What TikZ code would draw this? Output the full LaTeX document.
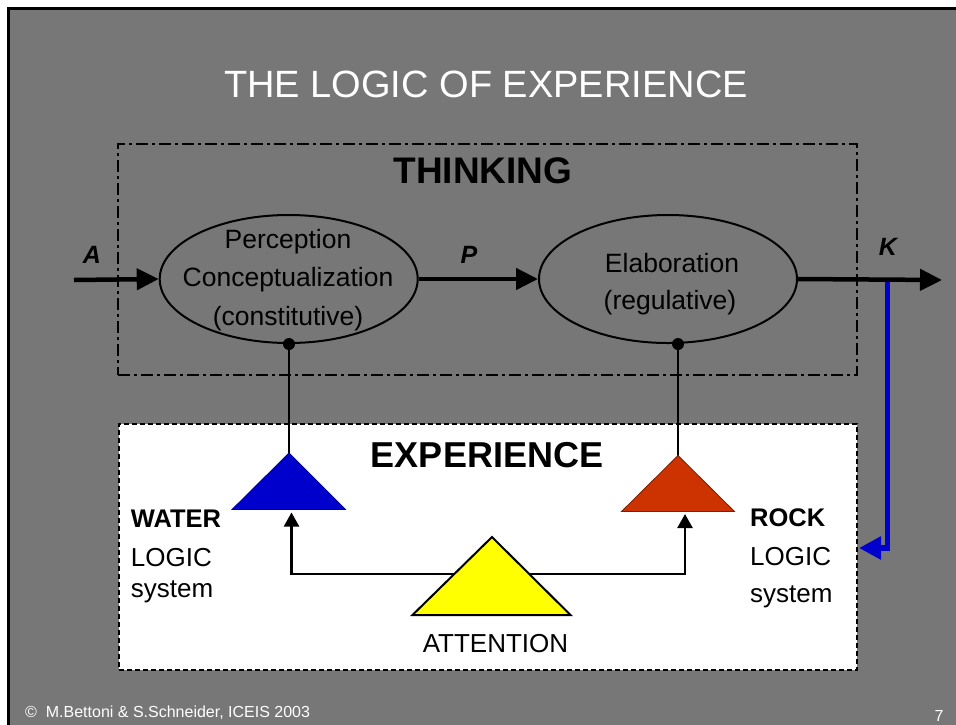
\documentclass[tikz,border=0pt]{standalone}
\usepackage{fontspec}
\setmainfont{Liberation Sans}
\usetikzlibrary{arrows.meta,shapes.geometric}
\definecolor{slidegray}{RGB}{119,119,119}
\definecolor{wblue}{RGB}{0,0,204}
\definecolor{rred}{RGB}{204,51,0}
\definecolor{ayellow}{RGB}{255,255,0}
\tikzset{
  txt/.style={inner sep=0pt, font=\fontsize{26}{30}\selectfont},
  hdr/.style={inner sep=0pt, font=\fontsize{36}{40}\selectfont\bfseries},
  lbl/.style={inner sep=0pt, font=\fontsize{25}{30}\selectfont\bfseries\itshape},
  foot/.style={inner sep=0pt, text=white, font=\fontsize{16}{18}\selectfont},
  procbox/.style={draw=black, ellipse, line width=2pt, minimum width=258pt, minimum height=128pt, inner sep=0pt},
  flow/.style={line width=4.5pt, -{Triangle[length=22pt,width=21pt]}},
  attn/.style={line width=2.3pt, -{Triangle[length=14pt,width=15pt]}},
  dotend/.style={circle, fill=black, inner sep=0pt, minimum size=12pt},
}
\begin{document}
\begin{tikzpicture}[x=1pt,y=-1pt]
\useasboundingbox (0,0) rectangle (956,724);
\clip (0,0) rectangle (956,724);
\fill[white] (0,0) rectangle (956,724);
\fill[slidegray] (8.5,8.5) rectangle (980,750);
\draw[black, line width=3pt] (8.5,8.5) rectangle (980,750);

% title
\node[inner sep=0pt, anchor=base, text=white, font=\fontsize{38}{42}\selectfont] (title) at (486,97) {THE LOGIC OF EXPERIENCE};

% boxes
\node[draw=black, line width=1.5pt, dash pattern=on 12pt off 4pt on 3pt off 4pt, minimum width=739pt, minimum height=231pt, inner sep=0pt] (think) at (487.5,259.5) {};
\node[draw=black, fill=white, line width=1.5pt, dash pattern=on 5pt off 3pt, minimum width=738pt, minimum height=246pt, inner sep=0pt] (expbox) at (488,547) {};

\node[hdr, anchor=base, font=\fontsize{37}{40}\selectfont\bfseries] (thinklbl) at (483,183) {THINKING};
\node[hdr, anchor=base] (explbl) at (487,467) {EXPERIENCE};

% ellipses
\node[procbox] (e1) at (288.7,279) {};
\node[procbox] (e2) at (668,279) {};

% triangle vertices
\coordinate (wa) at (289,453);
\coordinate (wl) at (232,509.5);
\coordinate (wr) at (345.5,509.5);
\coordinate (ra) at (678,455.5);
\coordinate (rl) at (621.5,511.5);
\coordinate (rr) at (734.5,511.5);
\coordinate (ya) at (492,537);
\coordinate (yl) at (412.5,615);
\coordinate (yr) at (570.5,615);

% flow arrows
\coordinate (astart) at (74,280);
\coordinate (kend) at (942,280);
\draw[flow] (astart) -- (e1.west);
\draw[flow] (e1.east) -- (e2.west);
\draw[flow] (e2.east) -- (kend);

% feedback K -> ROCK
\coordinate (kb) at (887.7,282);
\coordinate (rocktip) at (859,548);
\draw[wblue, line width=5.5pt, line join=miter, -{Triangle[length=22pt,width=22pt]}] (kb) |- (rocktip);

% ellipse to triangle connectors
\coordinate (d1) at (e1.south -| wa);
\coordinate (d2) at (e2.south -| ra);
\draw[line width=2pt] (d1) -- (wa);
\draw[line width=2pt] (d2) -- (ra);
\node[dotend] (dot1) at (d1) {};
\node[dotend] (dot2) at (d2) {};

% attention arrows
\coordinate (yc) at (492,574);
\coordinate (wtip) at (291.5,512.5);
\coordinate (rtip) at (685,514);
\draw[attn] (yc) -| (wtip);
\draw[attn] (yc) -| (rtip);

% triangles
\filldraw[fill=wblue, draw=wblue!70!black, line width=0.8pt] (wa) -- (wl) -- (wr) -- cycle;
\filldraw[fill=rred, draw=rred!60!black, line width=0.8pt] (ra) -- (rl) -- (rr) -- cycle;
\filldraw[fill=ayellow, draw=black, line width=2pt, line join=miter] (ya) -- (yl) -- (yr) -- cycle;

% ellipse texts
\node[txt, anchor=base, font=\fontsize{26.5}{30}\selectfont] (e1a) at (288,248) {Perception};
\node[txt, anchor=base, font=\fontsize{26.5}{30}\selectfont] (e1b) at (288,286) {Conceptualization};
\node[txt, anchor=base, font=\fontsize{26.5}{30}\selectfont] (e1c) at (288,325) {(constitutive)};
\node[txt, anchor=base, font=\fontsize{26.5}{30}\selectfont] (e2a) at (672,272) {Elaboration};
\node[txt, anchor=base, font=\fontsize{26.5}{30}\selectfont] (e2b) at (670,309) {(regulative)};

% flow labels
\node[lbl, anchor=base] (la) at (92,263) {A};
\node[lbl, anchor=base] (lp) at (469,263) {P};
\node[lbl, anchor=base] (lk) at (888,255) {K};

% side labels
\node[txt, anchor=base west, font=\fontsize{25.5}{30}\selectfont\bfseries] (w1) at (130.7,527) {WATER};
\node[txt, anchor=base west] (w2) at (130.7,566) {LOGIC};
\node[txt, anchor=base west] (w3) at (130.7,597) {system};
\node[txt, anchor=base west, font=\fontsize{25.5}{30}\selectfont\bfseries] (r1) at (750,526) {ROCK};
\node[txt, anchor=base west] (r2) at (750,565) {LOGIC};
\node[txt, anchor=base west] (r3) at (750,602) {system};
\node[txt, anchor=base] (att) at (495.5,652.5) {ATTENTION};

% footer
\node[foot, anchor=base west] (copy) at (25,717) {©\ \ M.Bettoni \& S.Schneider, ICEIS 2003};
\node[foot, anchor=base] (pageno) at (939,721) {7};
\end{tikzpicture}
\end{document}
